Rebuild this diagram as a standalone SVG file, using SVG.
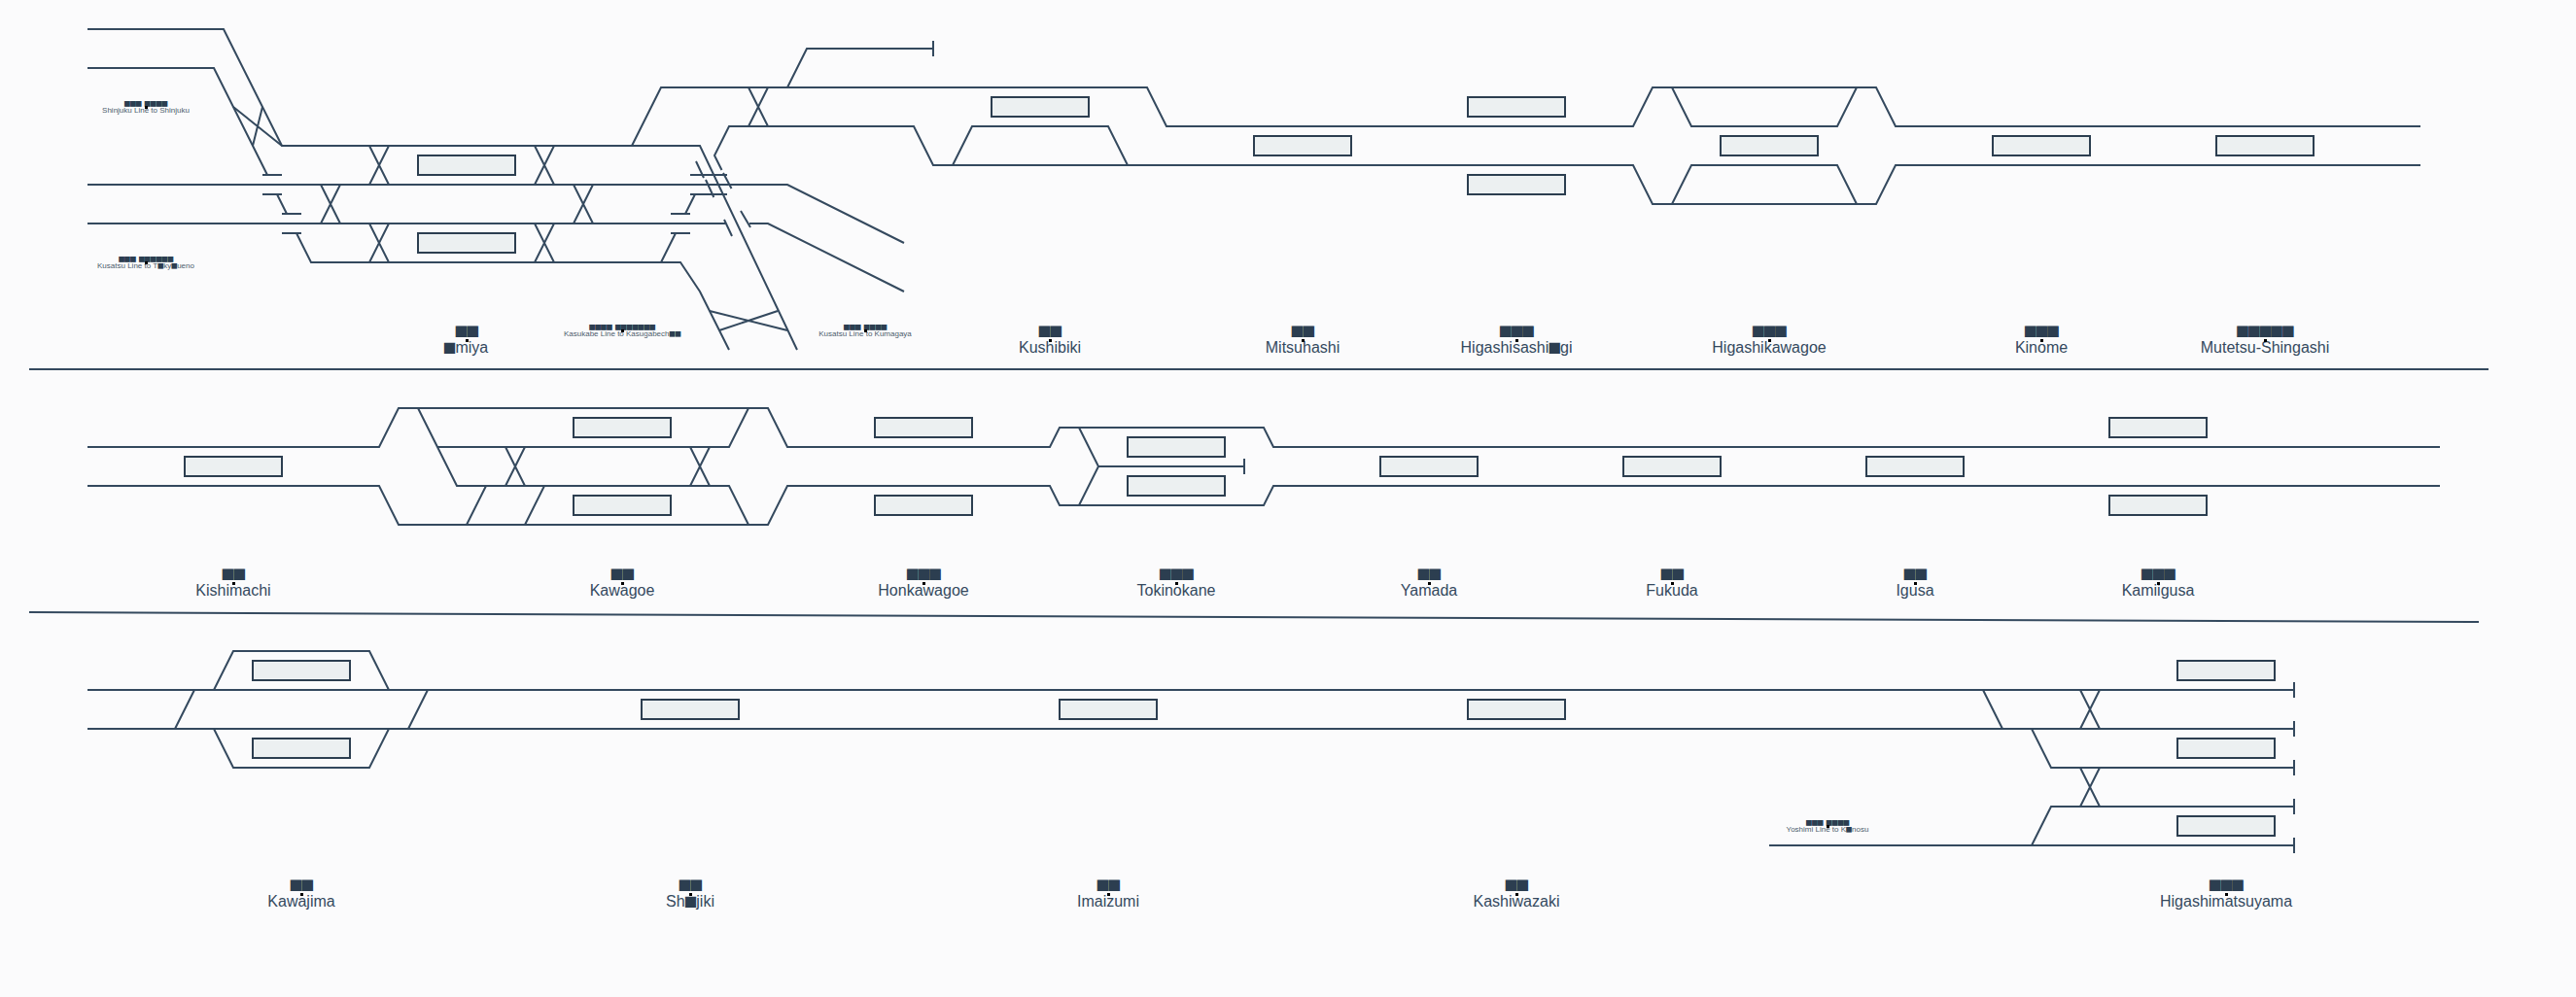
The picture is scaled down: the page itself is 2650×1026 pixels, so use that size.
<svg xmlns="http://www.w3.org/2000/svg" width="2650" height="1026" viewBox="0 0 2650 1026">
<style>
.bg{fill:#fbfbfc}
.l{fill:none;stroke:#34495e;stroke-width:2;stroke-linecap:butt;stroke-linejoin:miter}
.p{fill:#ecf0f1;stroke:#2c3e50;stroke-width:2}
.n{font-family:"Liberation Sans",Arial,"Noto Sans CJK JP",sans-serif;font-size:16px;fill:#34495e;text-anchor:middle}
.s{font-family:"Liberation Sans",Arial,"Noto Sans CJK JP",sans-serif;font-size:8px;fill:#4d5d6c;text-anchor:middle}
.k{font-family:"Noto Sans CJK JP",sans-serif;font-size:14.5px;letter-spacing:-2.8px;fill:#2c3e50;text-anchor:middle}
.j{font-family:"Noto Sans CJK JP",sans-serif;font-size:7.25px;letter-spacing:-1.35px;word-spacing:2.85px;fill:#2c3e50;text-anchor:middle}
.t{font-family:"Noto Sans CJK JP",sans-serif;font-size:14px;letter-spacing:-2.3px;fill:#2c3e50}
.u{font-family:"Noto Sans CJK JP",sans-serif;font-size:7px;letter-spacing:-1px;fill:#2c3e50}
.d{fill:#000}
</style>
<rect class="bg" width="2650" height="1026"/>
<g id="connectors">
<g id="row1">
<path class="l" d="M90 30H230L290 150H720L820 360"/>
<path class="l" d="M90 70H220L275 180M270 180H290"/>
<path class="l" d="M240 110L290 150M270 110L260 150"/>
<path class="l" d="M270 200H290M285 200L295 220M290 220H310M290 240H310M305 240L320 270H700L720 300L750 360"/>
<path class="l" d="M90 190H810L930 250"/>
<path class="l" d="M90 230H746M745 226L753 243M762 217L772 234M771 230H790L930 300"/>
<path class="l" d="M380 150L400 190M400 150L380 190M550 150L570 190M570 150L550 190"/>
<path class="l" d="M330 190L350 230M350 190L330 230M590 190L610 230M610 190L590 230"/>
<path class="l" d="M380 230L400 270M400 230L380 270M550 230L570 270M570 230L550 270"/>
<path class="l" d="M730 320L810 340M740 340L800 320"/>
<path class="l" d="M650 150L680 90H1180L1200 130H1680L1700 90H1930L1950 130H2490"/>
<path class="l" d="M810 90L830 50H960M960 42V58"/>
<path class="l" d="M770 90L790 130M790 90L770 130"/>
<path class="l" d="M742.500 175L735 160L750 130H940L960 170H1680L1700 210H1930L1950 170H2490"/>
<path class="l" d="M980 170L1000 130H1140L1160 170"/>
<path class="l" d="M744 178L752.500 194M716 166L724 183M726 185L734.300 203M710 180H748M710 200H748M715 200L705 220M690 220H710M690 240H710M695 240L680 270"/>
<path class="l" d="M1720 90L1740 130H1890L1910 90M1720 210L1740 170H1890L1910 210"/>
</g>
<g id="row2">
<path class="l" d="M90 460H390L410 420H790L810 460H1080L1090 440H1300L1310 460H2510"/>
<path class="l" d="M90 500H390L410 540H790L810 500H1080L1090 520H1300L1310 500H2510"/>
<path class="l" d="M430 420L470 500H750L770 540M450 460H750L770 420"/>
<path class="l" d="M500 500L480 540M560 500L540 540"/>
<path class="l" d="M520 460L540 500M540 460L520 500M710 460L730 500M730 460L710 500"/>
<path class="l" d="M1110 440L1130 480L1110 520M1130 480H1280M1280 472V488"/>
</g>
<g id="row3">
<path class="l" d="M90 710H2360M90 750H2360"/>
<path class="l" d="M220 710L240 670H380L400 710M220 750L240 790H380L400 750"/>
<path class="l" d="M200 710L180 750M440 710L420 750"/>
<path class="l" d="M2040 710L2060 750M2090 750L2110 790H2360M2090 870L2110 830H2360M1820 870H2360"/>
<path class="l" d="M2140 710L2160 750M2160 710L2140 750M2140 790L2160 830M2160 790L2140 830"/>
<path class="l" d="M2360 702V718M2360 742V758M2360 782V798M2360 822V838M2360 862V878"/>
</g>
</g>
<g id="dividers">
<path class="l" d="M30 380H2560M30 630L2550 640"/>
</g>
<g id="line-shinjuku"><text class="j" x="149.500" y="109.300">■■■ ■■■■</text><text class="s" x="150" y="116">Shinjuku Line to Shinjuku</text><rect class="d" x="149" y="109" width="3" height="3"/></g>
<g id="line-tokyo"><text class="j" x="149.500" y="269.300">■■■ ■■■■■■</text><text class="s" x="150" y="276">Kusatsu Line to T<tspan class="u" dx="-0.500">■</tspan><tspan dx="0.500">ky</tspan><tspan class="u" dx="-0.500">■</tspan><tspan dx="0.500">ueno</tspan></text><rect class="d" x="149" y="269" width="3" height="3"/></g>
<g id="line-kasukabe"><text class="j" x="639.500" y="339.300">■■■■ ■■■■■■■</text><text class="s" x="640" y="346">Kasukabe Line to Kasugabech<tspan class="u" dx="-0.500">■■</tspan></text><rect class="d" x="639" y="339" width="3" height="3"/></g>
<g id="line-kumagaya"><text class="j" x="889.500" y="339.300">■■■ ■■■■</text><text class="s" x="890" y="346">Kusatsu Line to Kumagaya</text><rect class="d" x="889" y="339" width="3" height="3"/></g>
<g id="line-konosu"><text class="j" x="1879.500" y="849.300">■■■ ■■■■</text><text class="s" x="1880" y="856">Yoshimi Line to K<tspan class="u" dx="-0.500">■</tspan><tspan dx="0.500">nosu</tspan></text><rect class="d" x="1879" y="849" width="3" height="3"/></g>
<g id="omiya"><rect class="p" x="430" y="160" width="100" height="20"/><rect class="p" x="430" y="240" width="100" height="20"/><text class="k" x="479" y="347.300">■■</text><text class="n" x="480" y="363"><tspan class="t" dx="-1.150">■</tspan><tspan dx="1.150">miya</tspan></text><rect class="d" x="479" y="349" width="3" height="3"/></g>
<g id="kushibiki"><rect class="p" x="1020" y="100" width="100" height="20"/><text class="k" x="1079" y="347.300">■■</text><text class="n" x="1080" y="363">Kushibiki</text><rect class="d" x="1079" y="349" width="3" height="3"/></g>
<g id="mitsuhashi"><rect class="p" x="1290" y="140" width="100" height="20"/><text class="k" x="1339" y="347.300">■■</text><text class="n" x="1340" y="363">Mitsuhashi</text><rect class="d" x="1339" y="349" width="3" height="3"/></g>
<g id="higashisashiogi"><rect class="p" x="1510" y="100" width="100" height="20"/><rect class="p" x="1510" y="180" width="100" height="20"/><text class="k" x="1559" y="347.300">■■■</text><text class="n" x="1560" y="363">Higashisashi<tspan class="t" dx="-1.150">■</tspan><tspan dx="1.150">gi</tspan></text><rect class="d" x="1559" y="349" width="3" height="3"/></g>
<g id="higashikawagoe"><rect class="p" x="1770" y="140" width="100" height="20"/><text class="k" x="1819" y="347.300">■■■</text><text class="n" x="1820" y="363">Higashikawagoe</text><rect class="d" x="1819" y="349" width="3" height="3"/></g>
<g id="kinome"><rect class="p" x="2050" y="140" width="100" height="20"/><text class="k" x="2099" y="347.300">■■■</text><text class="n" x="2100" y="363">Kinome</text><rect class="d" x="2099" y="349" width="3" height="3"/></g>
<g id="mutetsu-shingashi"><rect class="p" x="2280" y="140" width="100" height="20"/><text class="k" x="2329" y="347.300">■■■■■</text><text class="n" x="2330" y="363">Mutetsu-Shingashi</text><rect class="d" x="2329" y="349" width="3" height="3"/></g>
<g id="kishimachi"><rect class="p" x="190" y="470" width="100" height="20"/><text class="k" x="239" y="597.300">■■</text><text class="n" x="240" y="613">Kishimachi</text><rect class="d" x="239" y="599" width="3" height="3"/></g>
<g id="kawagoe"><rect class="p" x="590" y="430" width="100" height="20"/><rect class="p" x="590" y="510" width="100" height="20"/><text class="k" x="639" y="597.300">■■</text><text class="n" x="640" y="613">Kawagoe</text><rect class="d" x="639" y="599" width="3" height="3"/></g>
<g id="honkawagoe"><rect class="p" x="900" y="430" width="100" height="20"/><rect class="p" x="900" y="510" width="100" height="20"/><text class="k" x="949" y="597.300">■■■</text><text class="n" x="950" y="613">Honkawagoe</text><rect class="d" x="949" y="599" width="3" height="3"/></g>
<g id="tokinokane"><rect class="p" x="1160" y="450" width="100" height="20"/><rect class="p" x="1160" y="490" width="100" height="20"/><text class="k" x="1209" y="597.300">■■■</text><text class="n" x="1210" y="613">Tokinokane</text><rect class="d" x="1209" y="599" width="3" height="3"/></g>
<g id="yamada"><rect class="p" x="1420" y="470" width="100" height="20"/><text class="k" x="1469" y="597.300">■■</text><text class="n" x="1470" y="613">Yamada</text><rect class="d" x="1469" y="599" width="3" height="3"/></g>
<g id="fukuda"><rect class="p" x="1670" y="470" width="100" height="20"/><text class="k" x="1719" y="597.300">■■</text><text class="n" x="1720" y="613">Fukuda</text><rect class="d" x="1719" y="599" width="3" height="3"/></g>
<g id="igusa"><rect class="p" x="1920" y="470" width="100" height="20"/><text class="k" x="1969" y="597.300">■■</text><text class="n" x="1970" y="613">Igusa</text><rect class="d" x="1969" y="599" width="3" height="3"/></g>
<g id="kamiigusa"><rect class="p" x="2170" y="430" width="100" height="20"/><rect class="p" x="2170" y="510" width="100" height="20"/><text class="k" x="2219" y="597.300">■■■</text><text class="n" x="2220" y="613">Kamiigusa</text><rect class="d" x="2219" y="599" width="3" height="3"/></g>
<g id="kawajima"><rect class="p" x="260" y="680" width="100" height="20"/><rect class="p" x="260" y="760" width="100" height="20"/><text class="k" x="309" y="917.300">■■</text><text class="n" x="310" y="933">Kawajima</text><rect class="d" x="309" y="919" width="3" height="3"/></g>
<g id="shojiki"><rect class="p" x="660" y="720" width="100" height="20"/><text class="k" x="709" y="917.300">■■</text><text class="n" x="710" y="933">Sh<tspan class="t" dx="-1.150">■</tspan><tspan dx="1.150">jiki</tspan></text><rect class="d" x="709" y="919" width="3" height="3"/></g>
<g id="imaizumi"><rect class="p" x="1090" y="720" width="100" height="20"/><text class="k" x="1139" y="917.300">■■</text><text class="n" x="1140" y="933">Imaizumi</text><rect class="d" x="1139" y="919" width="3" height="3"/></g>
<g id="kashiwazaki"><rect class="p" x="1510" y="720" width="100" height="20"/><text class="k" x="1559" y="917.300">■■</text><text class="n" x="1560" y="933">Kashiwazaki</text><rect class="d" x="1559" y="919" width="3" height="3"/></g>
<g id="higashimatsuyama"><rect class="p" x="2240" y="680" width="100" height="20"/><rect class="p" x="2240" y="760" width="100" height="20"/><rect class="p" x="2240" y="840" width="100" height="20"/><text class="k" x="2289" y="917.300">■■■</text><text class="n" x="2290" y="933">Higashimatsuyama</text><rect class="d" x="2289" y="919" width="3" height="3"/></g>
</svg>
